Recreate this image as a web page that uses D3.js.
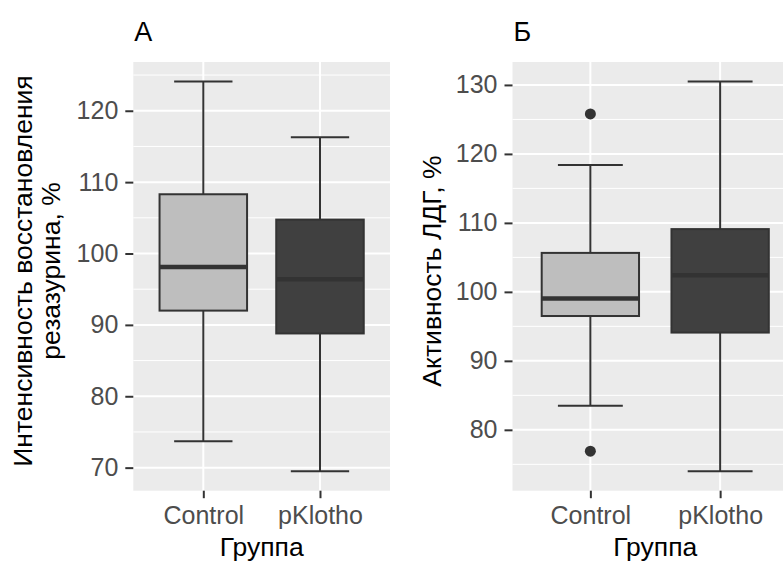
<!DOCTYPE html>
<html>
<head>
<meta charset="utf-8">
<script src="https://cdn.jsdelivr.net/npm/d3@7"></script>
<style>
  html, body { margin: 0; padding: 0; background: #ffffff; }
  svg { display: block; font-family: "Liberation Sans", Arial, sans-serif; }
</style>
</head>
<body>
<svg id="fig" width="783" height="561"></svg>
<script>
// Groups on the x axis
const groups = ["Control", "pKlotho"];
const groupFill = ["#bebebe", "#404040"];

// Five-number summaries: [lower whisker, Q1, median, Q3, upper whisker]
const resazurinControl = [73.7, 92.0, 98.1, 108.3, 124.1];
const resazurinKlotho  = [69.5, 88.8, 96.4, 104.75, 116.3];
const ldhControl = [83.5, 96.5, 99.05, 105.65, 118.4];
const ldhKlotho  = [74.0, 94.1, 102.4, 109.1, 130.5];

// Outlying points per group
const resazurinOutliers = [[], []];
const ldhOutliers = [[125.8, 76.9], []];

// Tick labels
const resazurinTicks = [70, 80, 90, 100, 110, 120];
const ldhTicks = [80, 90, 100, 110, 120, 130];

const panels = [
  {
    title: "А",
    yTitle: ["Интенсивность восстановления", "резазурина, %"],
    yTitleX: [32, 60],
    boxes: [resazurinControl, resazurinKlotho],
    outliers: resazurinOutliers,
    ticks: resazurinTicks,
    left: 133.3, right: 390
  },
  {
    title: "Б",
    yTitle: ["Активность ЛДГ, %"],
    yTitleX: [441],
    boxes: [ldhControl, ldhKlotho],
    outliers: ldhOutliers,
    ticks: ldhTicks,
    left: 512.5, right: 798
  }
];

const panelTop = 62, panelBottom = 490.7;
const tickFont = "25px", titleFont = "26.5px";
const svg = d3.select("#fig");

panels.forEach(p => {
  const g = svg.append("g");

  // y domain: data extent expanded by 5% on each side
  const vals = p.boxes.flatMap(b => [b[0], b[4]]).concat(p.outliers.flat());
  const lo = d3.min(vals), hi = d3.max(vals), pad = (hi - lo) * 0.05;
  const y = d3.scaleLinear().domain([lo - pad, hi + pad]).range([panelBottom, panelTop]);
  const x = d3.scalePoint().domain(groups).range([p.left, p.right]).padding(0.6);
  const step = x.step();

  // panel background
  g.append("rect")
    .attr("x", p.left).attr("y", panelTop)
    .attr("width", p.right - p.left).attr("height", panelBottom - panelTop)
    .attr("fill", "#ebebeb");

  // minor grid
  const minor = d3.range(Math.ceil(y.domain()[0] / 5) * 5, y.domain()[1], 5)
    .filter(v => v % 10 !== 0);
  g.selectAll(".minor").data(minor).join("line")
    .attr("x1", p.left).attr("x2", p.right)
    .attr("y1", d => y(d)).attr("y2", d => y(d))
    .attr("stroke", "#ffffff").attr("stroke-width", 1);

  // major grid
  g.selectAll(".major").data(p.ticks).join("line")
    .attr("x1", p.left).attr("x2", p.right)
    .attr("y1", d => y(d)).attr("y2", d => y(d))
    .attr("stroke", "#ffffff").attr("stroke-width", 2);
  g.selectAll(".vmajor").data(groups).join("line")
    .attr("x1", d => x(d)).attr("x2", d => x(d))
    .attr("y1", panelTop).attr("y2", panelBottom)
    .attr("stroke", "#ffffff").attr("stroke-width", 2);

  // boxes
  groups.forEach((grp, i) => {
    const b = p.boxes[i];
    const cx = x(grp);
    const bw = step * 0.75, cw = step * 0.5;
    const bg = g.append("g");
    // whisker stems
    bg.append("line").attr("x1", cx).attr("x2", cx)
      .attr("y1", y(b[3])).attr("y2", y(b[4]))
      .attr("stroke", "#333333").attr("stroke-width", 2);
    bg.append("line").attr("x1", cx).attr("x2", cx)
      .attr("y1", y(b[1])).attr("y2", y(b[0]))
      .attr("stroke", "#333333").attr("stroke-width", 2);
    // whisker caps
    [b[0], b[4]].forEach(v => {
      bg.append("line").attr("x1", cx - cw / 2).attr("x2", cx + cw / 2)
        .attr("y1", y(v)).attr("y2", y(v))
        .attr("stroke", "#333333").attr("stroke-width", 2);
    });
    // box
    bg.append("rect")
      .attr("x", cx - bw / 2).attr("y", y(b[3]))
      .attr("width", bw).attr("height", y(b[1]) - y(b[3]))
      .attr("fill", groupFill[i])
      .attr("stroke", "#333333").attr("stroke-width", 2);
    // median
    bg.append("line").attr("x1", cx - bw / 2).attr("x2", cx + bw / 2)
      .attr("y1", y(b[2])).attr("y2", y(b[2]))
      .attr("stroke", "#333333").attr("stroke-width", 4.5);
    // outliers
    bg.selectAll("circle").data(p.outliers[i]).join("circle")
      .attr("cx", cx).attr("cy", d => y(d)).attr("r", 5.5)
      .attr("fill", "#333333");
  });

  // y axis
  const ya = g.append("g").attr("transform", `translate(${p.left},0)`)
    .call(d3.axisLeft(y).tickValues(p.ticks).tickSize(8).tickPadding(7));
  ya.select(".domain").remove();
  ya.selectAll(".tick line").attr("stroke", "#333333").attr("stroke-width", 2);
  ya.selectAll(".tick text").attr("fill", "#4d4d4d")
    .style("font-size", tickFont).style("font-family", "Liberation Sans, Arial, sans-serif");

  // x axis
  const xa = g.append("g").attr("transform", `translate(0,${panelBottom})`)
    .call(d3.axisBottom(x).tickSize(7.5).tickPadding(8));
  xa.select(".domain").remove();
  xa.selectAll(".tick line").attr("stroke", "#333333").attr("stroke-width", 2);
  xa.selectAll(".tick text").attr("fill", "#4d4d4d")
    .style("font-size", tickFont).style("font-family", "Liberation Sans, Arial, sans-serif");

  // x axis title
  g.append("text")
    .attr("x", (p.left + p.right) / 2).attr("y", 556)
    .attr("text-anchor", "middle")
    .style("font-size", titleFont).attr("fill", "#000000")
    .text("Группа");

  // y axis title (rotated)
  p.yTitle.forEach((line, k) => {
    g.append("text")
      .attr("transform", `translate(${p.yTitleX[k]},271) rotate(-90)`)
      .attr("text-anchor", "middle")
      .style("font-size", titleFont).attr("fill", "#000000")
      .text(line);
  });

  // panel title
  g.append("text")
    .attr("x", p.left + 1).attr("y", 40.5)
    .style("font-size", "27px").attr("fill", "#000000")
    .text(p.title);
});
</script>
</body>
</html>
